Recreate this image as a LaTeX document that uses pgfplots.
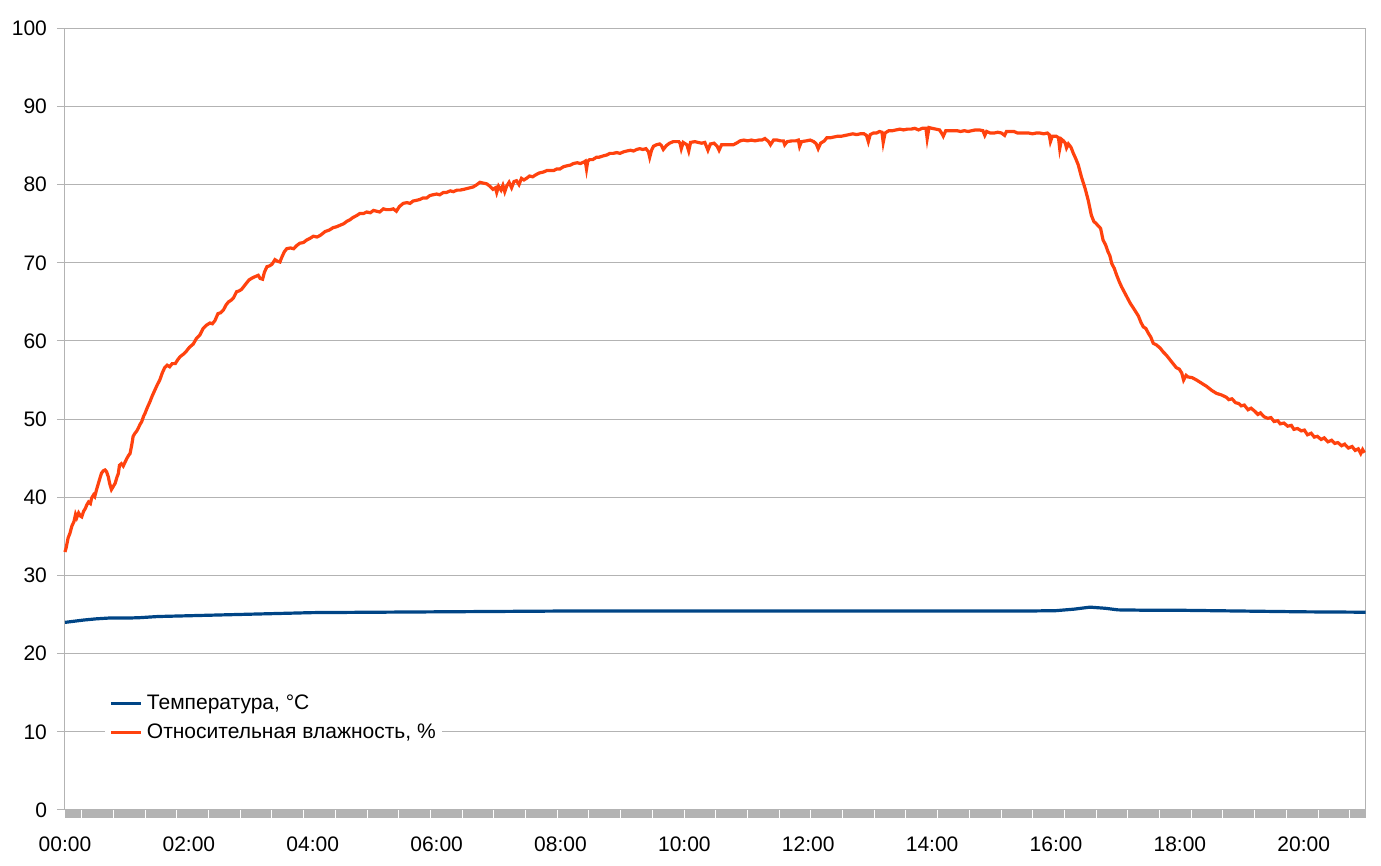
\documentclass[border=0pt]{standalone}
\usepackage{fontspec}
\setmainfont{Liberation Sans}
\usepackage{pgfplots}
\pgfplotsset{compat=1.18}
\definecolor{gridc}{HTML}{B3B3B3}
\definecolor{tempc}{HTML}{004586}
\definecolor{humc}{HTML}{FF420E}

\pgfplotstableread{
t v
0.00 33.0
0.02 33.6
0.05 34.8
0.08 35.4
0.11 36.3
0.145 36.9
0.17 37.8
0.19 37.4
0.22 38.0
0.25 37.6
0.27 37.5
0.30 38.2
0.33 38.6
0.35 39.0
0.38 39.4
0.41 39.2
0.43 39.9
0.46 40.3
0.48 40.1
0.51 41.0
0.54 41.8
0.57 42.6
0.59 43.1
0.62 43.4
0.645 43.5
0.67 43.3
0.70 42.6
0.72 41.8
0.75 41.0
0.78 41.4
0.81 41.8
0.84 42.6
0.86 43.0
0.88 44.1
0.91 44.3
0.94 44.0
0.97 44.5
1.00 45.0
1.03 45.4
1.05 45.6
1.08 46.8
1.10 47.8
1.13 48.2
1.16 48.5
1.18 48.8
1.21 49.3
1.24 49.7
1.27 50.4
1.29 50.7
1.33 51.5
1.37 52.2
1.41 53.0
1.45 53.7
1.49 54.4
1.53 55.0
1.57 55.9
1.61 56.6
1.65 56.9
1.69 56.7
1.73 57.1
1.78 57.1
1.82 57.6
1.86 58.0
1.91 58.3
1.96 58.7
2.01 59.2
2.07 59.6
2.12 60.3
2.18 60.8
2.23 61.6
2.28 62.0
2.34 62.3
2.38 62.2
2.42 62.6
2.47 63.5
2.51 63.6
2.56 64.0
2.60 64.6
2.64 65.0
2.68 65.2
2.72 65.5
2.77 66.3
2.81 66.4
2.85 66.6
2.89 67.0
2.93 67.4
2.97 67.8
3.01 68.0
3.06 68.2
3.12 68.4
3.15 68.0
3.19 67.9
3.22 68.8
3.26 69.5
3.30 69.6
3.34 69.8
3.39 70.4
3.43 70.2
3.47 70.1
3.50 70.7
3.54 71.4
3.58 71.8
3.64 71.9
3.69 71.8
3.74 72.2
3.79 72.5
3.85 72.6
3.90 72.9
3.95 73.1
4.01 73.4
4.07 73.3
4.12 73.5
4.20 74.0
4.27 74.2
4.33 74.5
4.38 74.6
4.44 74.8
4.50 75.0
4.55 75.3
4.60 75.5
4.65 75.8
4.70 76.0
4.76 76.3
4.82 76.3
4.87 76.5
4.93 76.4
4.98 76.7
5.03 76.6
5.08 76.5
5.14 76.9
5.19 76.8
5.25 76.8
5.30 76.9
5.35 76.6
5.40 77.2
5.46 77.6
5.52 77.7
5.57 77.6
5.62 77.9
5.68 78.0
5.73 78.1
5.78 78.3
5.84 78.3
5.89 78.6
5.94 78.7
6.00 78.8
6.05 78.7
6.11 79.0
6.16 79.0
6.22 79.2
6.27 79.1
6.33 79.3
6.38 79.3
6.44 79.4
6.49 79.5
6.54 79.6
6.59 79.7
6.65 80.0
6.70 80.3
6.75 80.2
6.81 80.1
6.86 79.8
6.91 79.4
6.95 79.6
6.97 79.0
7.00 79.8
7.04 79.3
7.07 79.9
7.10 79.1
7.13 79.8
7.17 80.3
7.21 79.6
7.25 80.4
7.29 80.5
7.33 80.0
7.37 80.8
7.41 80.6
7.45 80.8
7.50 81.1
7.55 81.0
7.61 81.3
7.66 81.5
7.72 81.6
7.78 81.8
7.84 81.8
7.89 81.8
7.94 82.0
7.99 82.0
8.05 82.3
8.10 82.4
8.16 82.5
8.21 82.7
8.27 82.8
8.32 82.7
8.38 82.9
8.40 83.0
8.42 82.0
8.44 83.0
8.47 83.2
8.52 83.2
8.58 83.5
8.62 83.5
8.70 83.7
8.75 83.8
8.80 84.0
8.85 84.0
8.91 84.1
8.96 84.0
9.02 84.2
9.07 84.3
9.13 84.4
9.18 84.3
9.23 84.5
9.28 84.6
9.33 84.5
9.38 84.6
9.42 84.2
9.44 83.5
9.47 84.4
9.50 84.9
9.55 85.1
9.60 85.2
9.63 85.0
9.66 84.5
9.71 85.0
9.76 85.3
9.82 85.5
9.87 85.5
9.91 85.5
9.93 85.3
9.95 84.6
9.98 85.4
10.04 85.1
10.07 84.3
10.10 85.4
10.17 85.5
10.22 85.4
10.28 85.3
10.33 85.4
10.38 84.4
10.42 85.2
10.48 85.3
10.53 84.9
10.56 84.4
10.60 85.1
10.65 85.1
10.70 85.1
10.75 85.1
10.79 85.1
10.84 85.3
10.90 85.6
10.96 85.7
11.02 85.6
11.08 85.7
11.14 85.6
11.20 85.7
11.25 85.7
11.30 85.9
11.36 85.5
11.39 85.1
11.44 85.7
11.50 85.7
11.55 85.6
11.60 85.6
11.62 85.1
11.66 85.5
11.74 85.6
11.80 85.6
11.84 85.7
11.86 84.9
11.89 85.5
11.97 85.6
12.03 85.7
12.09 85.5
12.13 85.2
12.16 84.6
12.20 85.3
12.26 85.6
12.30 86.0
12.36 86.0
12.42 86.1
12.48 86.2
12.54 86.2
12.60 86.3
12.66 86.4
12.72 86.5
12.78 86.4
12.84 86.5
12.90 86.5
12.94 86.3
12.97 85.5
13.00 86.4
13.05 86.6
13.10 86.6
13.15 86.8
13.19 86.7
13.21 85.4
13.24 86.6
13.30 86.9
13.36 86.9
13.42 87.0
13.48 87.1
13.54 87.0
13.60 87.1
13.66 87.1
13.72 87.2
13.78 87.0
13.84 87.2
13.90 87.2
13.92 85.9
13.95 87.3
14.00 87.2
14.06 87.1
14.12 87.0
14.16 86.5
14.18 86.2
14.22 86.9
14.28 86.9
14.34 86.9
14.40 86.9
14.46 86.8
14.52 86.9
14.58 86.8
14.64 86.9
14.70 87.0
14.76 87.0
14.82 86.9
14.85 86.3
14.88 86.8
14.94 86.6
15.00 86.6
15.06 86.7
15.12 86.6
15.17 86.3
15.20 86.8
15.26 86.8
15.32 86.8
15.38 86.6
15.44 86.6
15.50 86.6
15.56 86.6
15.62 86.5
15.68 86.6
15.74 86.6
15.80 86.5
15.86 86.6
15.89 86.4
15.91 85.5
15.94 86.2
16.00 86.2
16.04 86.0
16.06 84.6
16.09 85.8
16.12 85.6
16.15 85.3
16.17 84.7
16.20 85.2
16.24 84.8
16.28 84.0
16.32 83.3
16.36 82.5
16.41 81.0
16.47 79.5
16.52 78.0
16.57 76.1
16.61 75.3
16.65 75.0
16.72 74.4
16.76 72.9
16.80 72.3
16.84 71.4
16.87 70.9
16.90 69.9
16.94 69.3
16.98 68.4
17.02 67.6
17.06 66.9
17.10 66.3
17.14 65.7
17.20 64.8
17.25 64.2
17.29 63.7
17.33 63.2
17.37 62.4
17.41 61.8
17.45 61.6
17.49 61.0
17.53 60.5
17.57 59.7
17.62 59.5
17.68 59.1
17.73 58.6
17.78 58.2
17.84 57.6
17.89 57.1
17.94 56.6
17.99 56.4
18.03 55.9
18.06 55.0
18.10 55.6
18.13 55.4
18.20 55.3
18.27 55.0
18.35 54.6
18.43 54.2
18.51 53.7
18.59 53.3
18.67 53.1
18.75 52.8
18.79 52.5
18.84 52.6
18.90 52.1
18.95 52.0
18.99 51.7
19.04 51.8
19.10 51.2
19.15 51.4
19.21 51.0
19.26 50.6
19.30 50.8
19.36 50.3
19.42 50.1
19.47 50.2
19.52 49.7
19.58 49.8
19.62 49.4
19.68 49.5
19.74 49.1
19.80 49.2
19.84 48.7
19.90 48.8
19.96 48.5
20.01 48.6
20.06 48.0
20.12 48.2
20.17 47.7
20.22 47.8
20.28 47.4
20.33 47.6
20.39 47.1
20.45 47.3
20.50 46.9
20.55 47.0
20.61 46.6
20.66 46.8
20.72 46.3
20.78 46.5
20.83 46.0
20.88 46.2
20.92 45.6
20.95 46.1
20.98 45.7
}\humtable

\pgfplotstableread{
t v
0.00 24.0
0.10 24.1
0.20 24.2
0.30 24.3
0.50 24.45
0.70 24.55
1.00 24.55
1.20 24.6
1.50 24.75
2.00 24.85
2.50 24.95
3.00 25.05
3.50 25.15
4.00 25.25
5.00 25.30
6.00 25.35
7.00 25.40
8.00 25.45
10.00 25.45
12.00 25.45
14.00 25.45
15.50 25.45
16.00 25.50
16.30 25.70
16.55 25.95
16.80 25.80
17.00 25.60
17.50 25.55
18.00 25.55
19.00 25.45
20.00 25.35
21.00 25.30
}\temptable

\begin{document}
\begin{tikzpicture}
\begin{axis}[
  scale only axis,
  width=650.35pt, height=390.85pt,
  xmin=0, xmax=21, ymin=0, ymax=100,
  clip=false,
  xtick={0,2,4,6,8,10,12,14,16,18,20},
  xticklabels={00:00,02:00,04:00,06:00,08:00,10:00,12:00,14:00,16:00,18:00,20:00},
  ytick={0,10,...,100},
  ymajorgrids,
  grid style={gridc, line width=0.5pt},
  axis line style={gridc, line width=0.5pt},
  tick align=outside,
  major tick length=4pt,
  ytick pos=left,
  xtick pos=bottom,
  y tick style={gridc, line width=0.5pt},
  x tick style={draw=none},
  tick label style={font=\fontsize{10.5}{12.5}\selectfont, text=black},
  xticklabel style={yshift=-6pt},
  yticklabel style={xshift=-1.5pt},
  /pgf/number format/assume math mode=true,
  legend cell align=left,
  legend style={at={(rel axis cs:0.0307,0.1176)}, anchor=west, draw=none, fill=white,
    font=\fontsize{10.5}{12.5}\selectfont, inner xsep=2pt, inner ysep=2pt,
    row sep=3.5pt, nodes={inner sep=1.2pt}},
  legend image code/.code={\draw[#1] (0pt,0pt) -- (15pt,0pt); \path (16pt,0pt);},
]
\fill[gridc] (axis cs:0,0) rectangle ([yshift=-4pt]axis cs:21,0);
\pgfplotsinvokeforeach{0,...,40}{
  \draw[white, line width=0.5pt] (axis cs:{0.27+0.5118*#1},0) -- ++(0pt,-4pt);
}
\addplot[tempc, line width=1.6pt] table[x=t, y=v] {\temptable};
\addlegendentry{Температура, °C}
\addplot[humc, line width=1.6pt] table[x=t, y=v] {\humtable};
\addlegendentry{Относительная влажность, \%}
\end{axis}
\path ([shift={(-32.5pt,-28pt)}]current axis.south west) rectangle ([shift={(7.65pt,14.15pt)}]current axis.north east);
\end{tikzpicture}
\end{document}
